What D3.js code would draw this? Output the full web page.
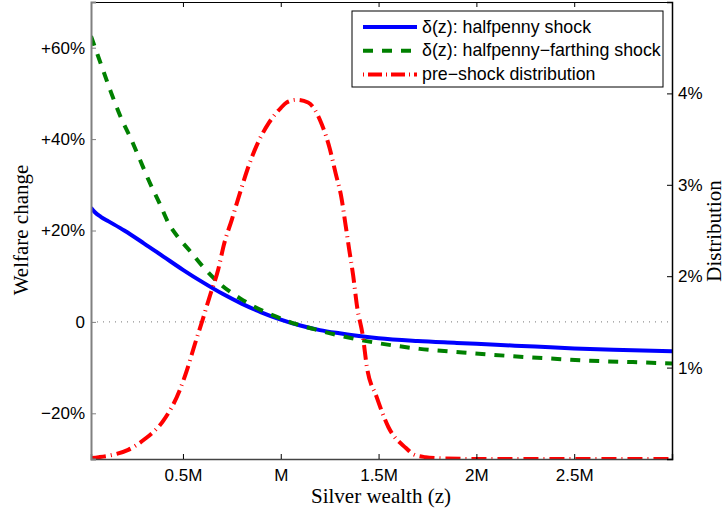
<!DOCTYPE html>
<meta charset="utf-8">
<script src="https://d3js.org/d3.v7.min.js"></script>
<style>
  body { margin: 0; background: #fff; }
  svg { display: block; }
  .tick text { font-family: "Liberation Sans", Arial, Helvetica, sans-serif; font-size: 17px; fill: #000; }
  .axis-label { font-family: "Liberation Serif", "Times New Roman", serif; font-size: 21px; fill: #000; }
  .legend text { font-family: "Liberation Sans", Arial, Helvetica, sans-serif; font-size: 17.8px; fill: #000; }
</style>
<div id="chart"></div>
<script>
// silver wealth (millions) and welfare change (%) for the halfpenny shock
const halfpennyZ     = [0.03, 0.05, 0.08, 0.12, 0.20, 0.30, 0.40, 0.50, 0.60, 0.70, 0.80, 0.90, 1.00, 1.10, 1.20, 1.30, 1.40, 1.50, 1.70, 1.90, 2.10, 2.30, 2.50, 2.70, 3.00];
const halfpennyDelta = [25.0, 24.0, 23.0, 22.0, 20.0, 17.2, 14.3, 11.4, 8.7, 6.2, 4.0, 2.1, 0.5, -0.8, -1.8, -2.5, -3.1, -3.6, -4.2, -4.6, -5.0, -5.4, -5.8, -6.1, -6.4];

// halfpenny-farthing shock
const farthingZ     = [0.03, 0.08, 0.13, 0.18, 0.235, 0.28, 0.33, 0.38, 0.43, 0.48, 0.54, 0.60, 0.69, 0.79, 0.88, 0.98, 1.08, 1.18, 1.28, 1.40, 1.49, 1.60, 1.71, 1.93, 2.15, 2.37, 2.58, 2.80, 3.00];
const farthingDelta = [62.5, 56.5, 50.5, 45.0, 40.0, 35.5, 30.5, 26.0, 21.3, 18.3, 15.3, 12.2, 8.3, 5.2, 3.0, 1.1, -0.5, -1.7, -2.8, -3.9, -4.6, -5.3, -5.9, -6.7, -7.4, -8.0, -8.5, -8.8, -9.1];

// pre-shock distribution (%)
const distZ     = [0.03, 0.07, 0.15, 0.22, 0.30, 0.40, 0.485, 0.52, 0.56, 0.60, 0.64, 0.68, 0.71, 0.75, 0.79, 0.83, 0.875, 0.94, 1.00, 1.03, 1.08, 1.14, 1.21, 1.25, 1.28, 1.31, 1.33, 1.35, 1.37, 1.39, 1.42, 1.44, 1.49, 1.55, 1.64, 1.68, 1.74, 1.80, 2.00, 2.50, 3.00];
const distShare = [0.01, 0.02, 0.05, 0.10, 0.21, 0.42, 0.76, 0.97, 1.25, 1.52, 1.80, 2.07, 2.35, 2.62, 2.90, 3.17, 3.42, 3.68, 3.84, 3.90, 3.93, 3.90, 3.66, 3.40, 3.13, 2.86, 2.58, 2.29, 2.01, 1.67, 1.34, 1.01, 0.68, 0.35, 0.12, 0.05, 0.02, 0.01, 0, 0, 0];

const zTicks = [0.5, 1, 1.5, 2, 2.5];
const zTickLabels = ["0.5M", "M", "1.5M", "2M", "2.5M"];
const welfareTicks = [-20, 0, 20, 40, 60];
const welfareTickLabels = ["\u221220%", "0", "+20%", "+40%", "+60%"];
const distTicks = [1, 2, 3, 4];
const distTickLabels = ["1%", "2%", "3%", "4%"];

const seriesNames = ["\u03b4(z): halfpenny shock", "\u03b4(z): halfpenny\u2212farthing shock", "pre\u2212shock distribution"];

const W = 727, H = 512;
const plotL = 91, plotR = 672, plotT = 2, plotB = 459;

const svg = d3.select("#chart").append("svg")
  .attr("width", W).attr("height", H);

const x = d3.scaleLinear().domain([0.03, 3.0]).range([plotL, plotR]);
const yL = d3.scaleLinear().domain([-30, 70]).range([plotB, plotT]);
const yR = d3.scaleLinear().domain([0, 5]).range([plotB, plotT]);

svg.append("clipPath").attr("id", "clip")
  .append("rect").attr("x", plotL).attr("y", plotT).attr("width", plotR - plotL).attr("height", plotB - plotT);

// zero line
svg.append("line")
  .attr("x1", plotL).attr("x2", plotR)
  .attr("y1", yL(0)).attr("y2", yL(0))
  .attr("stroke", "#777").attr("stroke-width", 1)
  .attr("stroke-dasharray", "1,5");

const plot = svg.append("g").attr("clip-path", "url(#clip)");

const lineL = d3.line().x(d => x(d[0])).y(d => yL(d[1])).curve(d3.curveMonotoneX);
const lineR = d3.line().x(d => x(d[0])).y(d => yR(d[1])).curve(d3.curveMonotoneX);

plot.append("path")
  .datum(d3.zip(halfpennyZ, halfpennyDelta))
  .attr("d", lineL)
  .attr("fill", "none").attr("stroke", "#0000ff").attr("stroke-width", 4);

plot.append("path")
  .datum(d3.zip(farthingZ, farthingDelta))
  .attr("d", lineL)
  .attr("fill", "none").attr("stroke", "#008000").attr("stroke-width", 4)
  .attr("stroke-dasharray", "10,9");

plot.append("path")
  .datum(d3.zip(distZ, distShare))
  .attr("d", lineR)
  .attr("fill", "none").attr("stroke", "#ff0000").attr("stroke-width", 4)
  .attr("stroke-dasharray", "15,5,1,5");

// axes
const xAxis = svg.append("g")
  .attr("transform", `translate(0,${plotB})`)
  .call(d3.axisBottom(x).tickValues(zTicks).tickFormat((d, i) => zTickLabels[i]).tickSize(-5).tickPadding(10));
xAxis.select(".domain").attr("stroke", "#444").attr("stroke-width", 1.5);

const xTop = svg.append("g")
  .attr("transform", `translate(0,${plotT})`)
  .call(d3.axisTop(x).tickValues(zTicks).tickFormat("").tickSize(-5));
xTop.select(".domain").attr("stroke", "#000");

const yAxisL = svg.append("g")
  .attr("transform", `translate(${plotL},0)`)
  .call(d3.axisLeft(yL).tickValues(welfareTicks).tickFormat((d, i) => welfareTickLabels[i]).tickSize(-5).tickPadding(6));
yAxisL.select(".domain").attr("stroke", "#808080").attr("stroke-width", 2);
yAxisL.selectAll(".tick line").attr("stroke", "#808080");

const yAxisR = svg.append("g")
  .attr("transform", `translate(${plotR},0)`)
  .call(d3.axisRight(yR).tickValues(distTicks).tickFormat((d, i) => distTickLabels[i]).tickSize(-5).tickPadding(6));
yAxisR.select(".domain").attr("stroke", "#000").attr("stroke-width", 1.5);

// axis labels
svg.append("text").attr("class", "axis-label")
  .attr("text-anchor", "middle")
  .attr("x", 381).attr("y", 503)
  .text("Silver wealth (z)");

svg.append("text").attr("class", "axis-label")
  .attr("text-anchor", "middle")
  .attr("transform", "translate(28,230) rotate(-90)")
  .text("Welfare change");

svg.append("text").attr("class", "axis-label")
  .attr("text-anchor", "middle")
  .attr("transform", "translate(721,231) rotate(-90)")
  .text("Distribution");

// legend
const legend = svg.append("g").attr("class", "legend");
legend.append("rect")
  .attr("x", 352).attr("y", 11).attr("width", 311).attr("height", 76)
  .attr("fill", "#fff").attr("stroke", "#000").attr("stroke-width", 1);

const legendStyles = [
  { color: "#0000ff", dash: null },
  { color: "#008000", dash: "10,9" },
  { color: "#ff0000", dash: "1,4,14,4" }
];
seriesNames.forEach((name, i) => {
  const yy = 27 + i * 23.7;
  legend.append("line")
    .attr("x1", 363).attr("x2", 417).attr("y1", yy).attr("y2", yy)
    .attr("stroke", legendStyles[i].color).attr("stroke-width", 4)
    .attr("stroke-dasharray", legendStyles[i].dash);
  legend.append("text")
    .attr("x", 422).attr("y", yy + 5.5)
    .text(name);
});
</script>
